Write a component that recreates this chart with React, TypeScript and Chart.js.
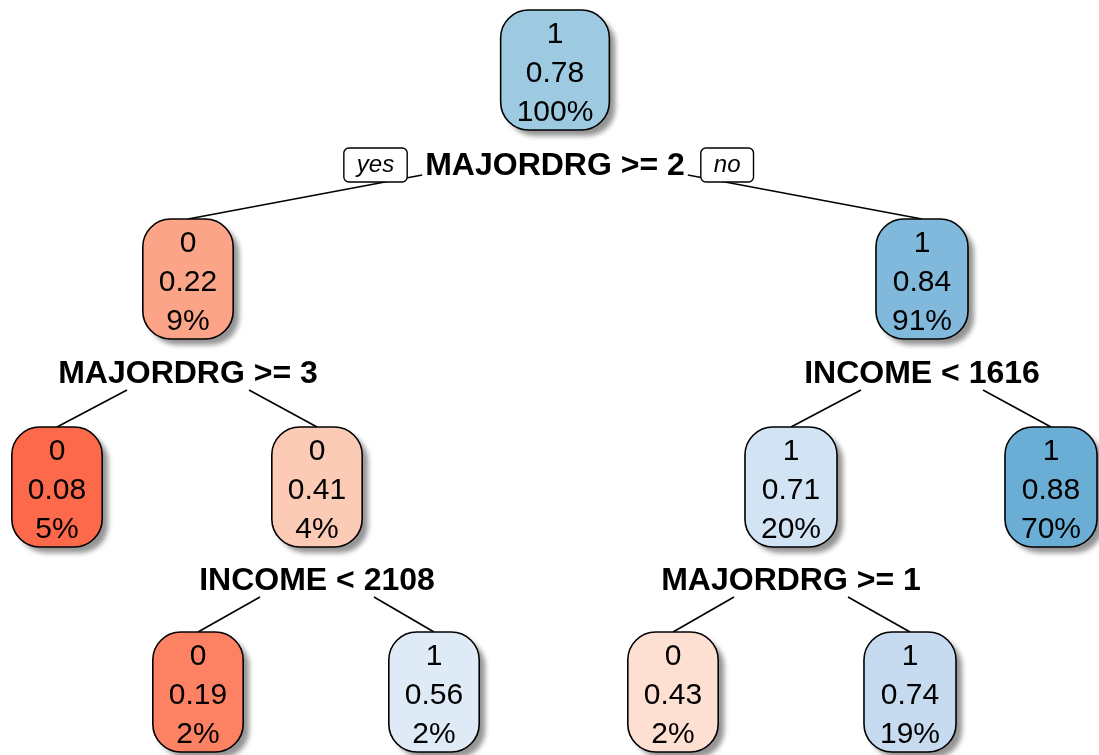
import React, { useEffect, useRef } from "react";
import { Chart, registerables } from "chart.js";
Chart.register(...registerables);

// Tree nodes (rpart-style), in display order
const nodeClass = ["1", "0", "1", "0", "0", "1", "1", "0", "1", "0", "1"];
const nodeProb = ["0.78", "0.22", "0.84", "0.08", "0.41", "0.71", "0.88", "0.19", "0.56", "0.43", "0.74"];
const nodePct = ["100%", "9%", "91%", "5%", "4%", "20%", "70%", "2%", "2%", "2%", "19%"];
const nodeParent = [-1, 0, 0, 1, 1, 2, 2, 4, 4, 5, 5];
const nodeLevel = [0, 1, 1, 2, 2, 2, 2, 3, 3, 3, 3];
const nodeFill = [
  "#9ECAE1", "#FCA487", "#80B9DB", "#FC6A4B", "#FCCBB6",
  "#D2E3F3", "#6AAED6", "#FC8263", "#DEEBF7", "#FEE0D3", "#C6DBEF",
];
// layout positions in the diagram's own x units
const nodeX = [555, 188, 922, 57, 317, 791, 1051, 198, 434, 673, 910];
const levelCenterY = [70, 279, 487, 692];
const splitLevelY = [166, 374, 581];
const splitText: Record<number, string> = {
  0: "MAJORDRG >= 2",
  1: "MAJORDRG >= 3",
  2: "INCOME < 1616",
  4: "INCOME < 2108",
  5: "MAJORDRG >= 1",
};

const FONT = '"Liberation Sans", Arial, sans-serif';
const BOX_H = 120;
const LINE_GAP = 39;

const treePlugin = {
  id: "tree",
  afterDatasetsDraw(chart: any) {
    const ctx: CanvasRenderingContext2D = chart.ctx;
    const xs = chart.scales.x;
    const ys = chart.scales.y;
    const px = (v: number) => xs.getPixelForValue(v);
    const py = (v: number) => ys.getPixelForValue(v);

    ctx.save();
    ctx.font = `bold 32px ${FONT}`;
    const labelW: Record<number, number> = {};
    Object.keys(splitText).forEach((k) => {
      labelW[+k] = ctx.measureText(splitText[+k]).width;
    });

    // branch lines
    ctx.strokeStyle = "#000";
    ctx.lineWidth = 1.6;
    for (let i = 0; i < nodeX.length; i++) {
      const p = nodeParent[i];
      if (p < 0) continue;
      const lvl = nodeLevel[p];
      const left = nodeX[i] < nodeX[p];
      let dx: number, dy: number;
      if (lvl === 0) {
        dx = labelW[p] / 2 + 3;
        dy = 9;
      } else {
        dx = lvl === 1 ? 61 : 57;
        dy = 16;
      }
      const sx = px(nodeX[p]) + (left ? -dx : dx);
      const sy = py(splitLevelY[lvl]) + dy;
      const ex = px(nodeX[i]);
      const ey = py(levelCenterY[nodeLevel[i]]) - BOX_H / 2;
      ctx.beginPath();
      ctx.moveTo(sx, sy);
      ctx.lineTo(ex, ey);
      ctx.stroke();
    }

    // nodes
    ctx.font = `30px ${FONT}`;
    for (let i = 0; i < nodeX.length; i++) {
      const lines = [nodeClass[i], nodeProb[i], nodePct[i]];
      const tw = Math.max(...lines.map((s) => ctx.measureText(s).width));
      const w = tw + 32;
      const cx = px(nodeX[i]);
      const cy = py(levelCenterY[nodeLevel[i]]);
      const x0 = cx - w / 2;
      const y0 = cy - BOX_H / 2;
      ctx.save();
      ctx.shadowColor = "rgba(0,0,0,0.42)";
      ctx.shadowBlur = 5;
      ctx.shadowOffsetX = 6;
      ctx.shadowOffsetY = 6;
      ctx.beginPath();
      ctx.roundRect(x0, y0, w, BOX_H, 28);
      ctx.fillStyle = nodeFill[i];
      ctx.fill();
      ctx.restore();
      ctx.beginPath();
      ctx.roundRect(x0, y0, w, BOX_H, 28);
      ctx.lineWidth = 1.6;
      ctx.strokeStyle = "#000";
      ctx.stroke();
      ctx.fillStyle = "#000";
      ctx.textAlign = "center";
      ctx.textBaseline = "middle";
      lines.forEach((s, k) => {
        ctx.fillText(s, cx, cy + 4 + (k - 1) * LINE_GAP);
      });
    }

    // split labels
    ctx.font = `bold 32px ${FONT}`;
    ctx.fillStyle = "#000";
    ctx.textAlign = "center";
    ctx.textBaseline = "middle";
    Object.keys(splitText).forEach((k) => {
      const i = +k;
      ctx.fillText(splitText[i], px(nodeX[i]), py(splitLevelY[nodeLevel[i]]));
    });

    // yes / no boxes at the root split
    const rootCx = px(nodeX[0]);
    const rootCy = py(splitLevelY[0]) - 1;
    const hw = labelW[0] / 2;
    ctx.font = `italic 24px ${FONT}`;
    const drawTag = (text: string, anchor: number, side: number) => {
      const w = ctx.measureText(text).width + 26;
      const h = 34;
      const x0 = side < 0 ? anchor - w : anchor;
      ctx.beginPath();
      ctx.roundRect(x0, rootCy - h / 2, w, h, 5);
      ctx.fillStyle = "#fff";
      ctx.fill();
      ctx.lineWidth = 1.4;
      ctx.strokeStyle = "#000";
      ctx.stroke();
      ctx.fillStyle = "#000";
      ctx.fillText(text, x0 + w / 2, rootCy);
    };
    drawTag("yes", rootCx - hw - 18, -1);
    drawTag("no", rootCx + hw + 16, 1);
    ctx.restore();
  },
};

export default function App() {
  const ref = useRef<HTMLCanvasElement>(null);
  useEffect(() => {
    const chart = new Chart(ref.current!, {
      type: "scatter",
      data: {
        datasets: [
          {
            data: nodeX.map((x, i) => ({ x, y: levelCenterY[nodeLevel[i]] })),
            pointRadius: 0,
          },
        ],
      },
      options: {
        animation: false,
        responsive: false,
        events: [],
        layout: { padding: 0 },
        plugins: { legend: { display: false }, tooltip: { enabled: false } },
        scales: {
          x: { type: "linear", min: 0, max: 1099, display: false },
          y: { type: "linear", min: 0, max: 755, reverse: true, display: false },
        },
      },
      plugins: [treePlugin],
    } as any);
    return () => chart.destroy();
  }, []);
  return (
    <div style={{ position: "fixed", left: 0, top: 0, width: 1099, height: 755, background: "#fff" }}>
      <canvas ref={ref} width={1099} height={755} style={{ display: "block" }} />
    </div>
  );
}
